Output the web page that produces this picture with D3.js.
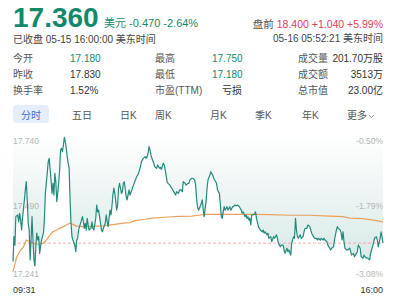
<!DOCTYPE html>
<html>
<head>
<meta charset="utf-8">
<script src="https://cdn.jsdelivr.net/npm/d3@7"></script>
<style>
  body { margin: 0; background: #fff; }
  svg text { font-family: "Liberation Sans", Arial, "Noto Sans CJK SC", sans-serif; }
</style>
</head>
<body>
<div id="chart"></div>
<script>
// minute offset from 09:31, price
const pricePoints = [
  [0,17.295],[1,17.383],[2,17.353],[3,17.453],[5,17.459],[6,17.435],[7,17.465],[8,17.441],[9,17.406],[10,17.447],
  [12,17.512],[13,17.547],[14,17.576],[15,17.512],[16,17.430],[17,17.406],[18,17.301],[19,17.371],[20,17.453],[21,17.371],
  [22,17.301],[23,17.280],[24,17.347],[25,17.395],[26,17.371],[27,17.383],[28,17.324],[30,17.371],[32,17.395],[33,17.441],
  [34,17.535],[35,17.570],[36,17.605],[37,17.646],[38,17.658],[40,17.582],[41,17.535],[42,17.570],[43,17.529],[44,17.605],
  [45,17.576],[46,17.506],[47,17.535],[48,17.570],[49,17.617],[50,17.687],[51,17.693],[52,17.681],[53,17.705],[54,17.732],
  [55,17.716],[56,17.693],[57,17.664],[58,17.641],[59,17.623],[60,17.512],[61,17.430],[62,17.383],[63,17.371],[65,17.353],
  [66,17.330],[67,17.371],[68,17.377],[69,17.406],[70,17.418],[72,17.441],[73,17.453],[74,17.435],[75,17.412],[76,17.430],
  [77,17.406],[78,17.447],[79,17.424],[80,17.406],[82,17.412],[83,17.435],[84,17.412],[85,17.406],[87,17.447],[88,17.494],
  [89,17.470],[90,17.476],[91,17.453],[92,17.430],[93,17.406],[94,17.400],[95,17.412],[97,17.430],[98,17.459],[99,17.435],
  [100,17.418],[101,17.447],[102,17.476],[103,17.459],[104,17.488],[105,17.529],[106,17.553],[107,17.535],[108,17.506],[109,17.476],
  [110,17.494],[111,17.553],[112,17.570],[113,17.553],[114,17.535],[115,17.541],[116,17.570],[117,17.576],[119,17.523],[120,17.512],
  [122,17.547],[123,17.529],[125,17.547],[126,17.558],[128,17.576],[130,17.593],[132,17.605],[134,17.629],[135,17.646],[137,17.658],
  [139,17.664],[140,17.658],[141,17.664],[142,17.676],[143,17.699],[144,17.687],[145,17.670],[146,17.658],[148,17.641],[149,17.629],
  [151,17.623],[152,17.635],[154,17.623],[155,17.626],[156,17.619],[158,17.641],[159,17.635],[160,17.617],[161,17.599],[162,17.576],
  [163,17.570],[165,17.564],[166,17.558],[167,17.553],[168,17.547],[169,17.541],[170,17.535],[171,17.529],[172,17.541],[174,17.535],
  [175,17.547],[177,17.547],[178,17.541],[179,17.576],[181,17.570],[182,17.564],[184,17.570],[185,17.570],[186,17.582],[188,17.588],
  [189,17.588],[191,17.582],[192,17.564],[193,17.517],[194,17.488],[195,17.476],[196,17.482],[198,17.500],[199,17.512],[200,17.476],
  [201,17.453],[202,17.482],[203,17.506],[204,17.553],[205,17.582],[207,17.599],[208,17.611],[210,17.599],[211,17.588],[212,17.582],
  [214,17.570],[215,17.547],[217,17.535],[218,17.494],[219,17.453],[220,17.447],[221,17.470],[222,17.488],[223,17.476],[224,17.482],
  [225,17.488],[226,17.476],[227,17.482],[228,17.488],[229,17.476],[231,17.488],[232,17.488],[233,17.494],[235,17.491],[236,17.494],
  [238,17.488],[239,17.482],[240,17.476],[241,17.465],[242,17.470],[244,17.453],[245,17.459],[246,17.447],[247,17.453],[248,17.441],
  [249,17.447],[250,17.424],[251,17.459],[252,17.459],[254,17.462],[255,17.470],[256,17.447],[258,17.418],[259,17.412],[260,17.406],
  [262,17.400],[263,17.406],[264,17.395],[265,17.400],[267,17.389],[268,17.395],[269,17.377],[271,17.383],[272,17.365],[274,17.383],
  [275,17.377],[277,17.389],[278,17.377],[279,17.360],[281,17.347],[282,17.353],[284,17.353],[285,17.336],[286,17.324],[288,17.342],
  [289,17.330],[290,17.336],[292,17.318],[293,17.360],[294,17.371],[295,17.383],[296,17.377],[297,17.447],[298,17.406],[299,17.383],
  [300,17.377],[302,17.389],[303,17.377],[305,17.383],[306,17.400],[307,17.412],[309,17.412],[310,17.424],[312,17.418],[313,17.406],
  [314,17.395],[316,17.383],[317,17.377],[319,17.377],[320,17.371],[321,17.377],[323,17.371],[324,17.377],[326,17.371],[327,17.377],
  [328,17.371],[330,17.365],[331,17.353],[333,17.342],[334,17.336],[335,17.342],[337,17.347],[338,17.371],[340,17.406],[341,17.418],
  [342,17.412],[344,17.406],[345,17.395],[346,17.371],[347,17.400],[348,17.365],[349,17.342],[351,17.336],[352,17.336],[354,17.342],
  [355,17.330],[356,17.318],[358,17.324],[359,17.312],[361,17.324],[362,17.330],[363,17.353],[365,17.342],[366,17.312],[368,17.307],
  [369,17.318],[370,17.312],[372,17.307],[373,17.307],[375,17.301],[376,17.324],[377,17.336],[379,17.360],[380,17.377],[382,17.383],
  [383,17.371],[384,17.347],[386,17.377],[387,17.400],[389,17.360]
];

const avgPoints = [
  [0,17.260],[4,17.312],[7,17.330],[11,17.347],[14,17.371],[18,17.365],[21,17.360],[25,17.357],[28,17.356],[32,17.360],
  [35,17.371],[39,17.389],[42,17.400],[46,17.406],[49,17.412],[53,17.418],[56,17.424],[60,17.430],[63,17.426],[67,17.420],
  [74,17.418],[81,17.418],[88,17.420],[95,17.421],[102,17.424],[109,17.427],[116,17.430],[123,17.432],[128,17.439],[139,17.444],
  [146,17.448],[160,17.451],[174,17.454],[188,17.455],[195,17.458],[202,17.461],[223,17.461],[254,17.461],[270,17.460],[291,17.458],
  [312,17.458],[333,17.455],[347,17.453],[354,17.448],[368,17.446],[379,17.441],[389,17.435]
];

const lastPrice = 17.360;
const priceTicks = [17.740, 17.490, 17.241];
const priceTickLabels = ["17.740", "17.490", "17.241"];
const pctTickLabels = ["-0.50%", "-1.79%", "-3.08%"];
const timeLabels = ["09:31", "16:00"];
const totalMinutes = 389;

const statRows = [
  ["今开", "17.180", "最高", "17.750", "成交量", "201.70万股"],
  ["昨收", "17.830", "最低", "17.180", "成交额", "3513万"],
  ["换手率", "1.52%", "市盈(TTM)", "亏损", "总市值", "23.00亿"]
];
const statColors = [
  ["#0f8a6a", "#0f8a6a"],
  ["#333", "#0f8a6a"],
  ["#333", "#333"]
];
const tabs = ["分时", "五日", "日K", "周K", "月K", "季K", "年K", "更多"];
const tabX = [31, 72, 120, 155, 210, 255, 302, 347];

const GREEN = "#13896b", RED = "#d8435a", LINE = "#23897a", AVG = "#e9a15e";

const svg = d3.select('#chart').append('svg')
    .attr('width', 400)
    .attr('height', 300);

// header
const head = svg.append('g');
head.append('text').attr('x', 13).attr('y', 27)
    .attr('font-size', 28).attr('font-weight', 'bold').attr('fill', GREEN)
    .text('17.360');
head.append('text').attr('x', 104).attr('y', 27)
    .attr('font-size', 11).attr('fill', GREEN)
    .text('美元 -0.470 -2.64%');
head.append('text').attr('x', 13).attr('y', 43)
    .attr('font-size', 10).attr('fill', '#444')
    .text('已收盘 05-15 16:00:00 美东时间');
const pre = head.append('text').attr('x', 383).attr('y', 28)
    .attr('font-size', 10.5).attr('text-anchor', 'end');
pre.append('tspan').attr('fill', '#555').text('盘前 ');
pre.append('tspan').attr('fill', RED).text('18.400 +1.040 +5.99%');
head.append('text').attr('x', 383).attr('y', 42)
    .attr('font-size', 10).attr('text-anchor', 'end').attr('fill', '#444')
    .text('05-16 05:52:21 美东时间');

// stats
const stats = svg.append('g').attr('font-size', 10);
statRows.forEach((r, i) => {
    const y = 62 + i * 16;
    stats.append('text').attr('x', 13).attr('y', y).attr('fill', '#555').text(r[0]);
    stats.append('text').attr('x', 70).attr('y', y).attr('fill', statColors[i][0]).text(r[1]);
    stats.append('text').attr('x', 155).attr('y', y).attr('fill', '#555').text(r[2]);
    stats.append('text').attr('x', i == 2 ? 222 : 212).attr('y', y).attr('fill', statColors[i][1]).text(r[3]);
    stats.append('text').attr('x', 298).attr('y', y).attr('fill', '#555').text(r[4]);
    stats.append('text').attr('x', 383).attr('y', y).attr('fill', '#333').attr('text-anchor', 'end').text(r[5]);
});

// tabs
const tabG = svg.append('g').attr('font-size', 10);
tabG.append('rect').attr('x', 13).attr('y', 105).attr('width', 36).attr('height', 18)
    .attr('rx', 4).attr('fill', '#e7eefb');
tabs.forEach((t, i) => {
    tabG.append('text').attr('x', tabX[i]).attr('y', 118.5)
        .attr('text-anchor', i == 0 ? 'middle' : 'start')
        .attr('fill', i == 0 ? '#3f6fcf' : '#555').text(t);
});
tabG.append('path').attr('d', 'M369,115 l2.5,2.5 l2.5,-2.5')
    .attr('fill', 'none').attr('stroke', '#777').attr('stroke-width', 0.8);

// chart
const x = d3.scaleLinear().domain([0, totalMinutes]).range([13, 383]);
const y = d3.scaleLinear().domain([17.241, 17.740]).range([277, 135]);

const defs = svg.append('defs');
const grad = defs.append('linearGradient').attr('id', 'fillGrad')
    .attr('gradientUnits', 'userSpaceOnUse')
    .attr('x1', 0).attr('x2', 0).attr('y1', y(17.740)).attr('y2', y(17.241));
grad.append('stop').attr('offset', 0).attr('stop-color', LINE).attr('stop-opacity', 0.0);
grad.append('stop').attr('offset', 1).attr('stop-color', LINE).attr('stop-opacity', 0.2);

const main = svg.append('g');

main.append('path').datum(pricePoints)
    .attr('fill', 'url(#fillGrad)')
    .attr('d', d3.area().x(d => x(d[0])).y0(y(17.740)).y1(d => y(d[1])));

// axis labels
const labels = main.append('g').attr('font-size', 8.5).attr('fill', '#b5b5b5');
const labelShift = [9, 3, 0];
priceTicks.forEach((v, i) => {
    labels.append('text').attr('x', 13).attr('y', y(v) + labelShift[i]).text(priceTickLabels[i]);
    labels.append('text').attr('x', 383).attr('y', y(v) + labelShift[i])
        .attr('text-anchor', 'end').text(pctTickLabels[i]);
});

main.append('line')
    .attr('x1', x(0)).attr('x2', x(totalMinutes))
    .attr('y1', y(lastPrice)).attr('y2', y(lastPrice))
    .attr('stroke', '#f09a9a').attr('stroke-width', 0.8).attr('stroke-dasharray', '3,2');

main.append('path').datum(avgPoints)
    .attr('fill', 'none').attr('stroke', AVG).attr('stroke-width', 1.2)
    .attr('d', d3.line().x(d => x(d[0])).y(d => y(d[1])));

main.append('path').datum(pricePoints)
    .attr('fill', 'none').attr('stroke', LINE).attr('stroke-width', 1.2)
    .attr('stroke-linejoin', 'round')
    .attr('d', d3.line().x(d => x(d[0])).y(d => y(d[1])));

const tl = main.append('g').attr('font-size', 9).attr('fill', '#333');
tl.append('text').attr('x', x(0)).attr('y', 293).text(timeLabels[0]);
tl.append('text').attr('x', x(totalMinutes)).attr('y', 293).attr('text-anchor', 'end').text(timeLabels[1]);
</script>
</body>
</html>
